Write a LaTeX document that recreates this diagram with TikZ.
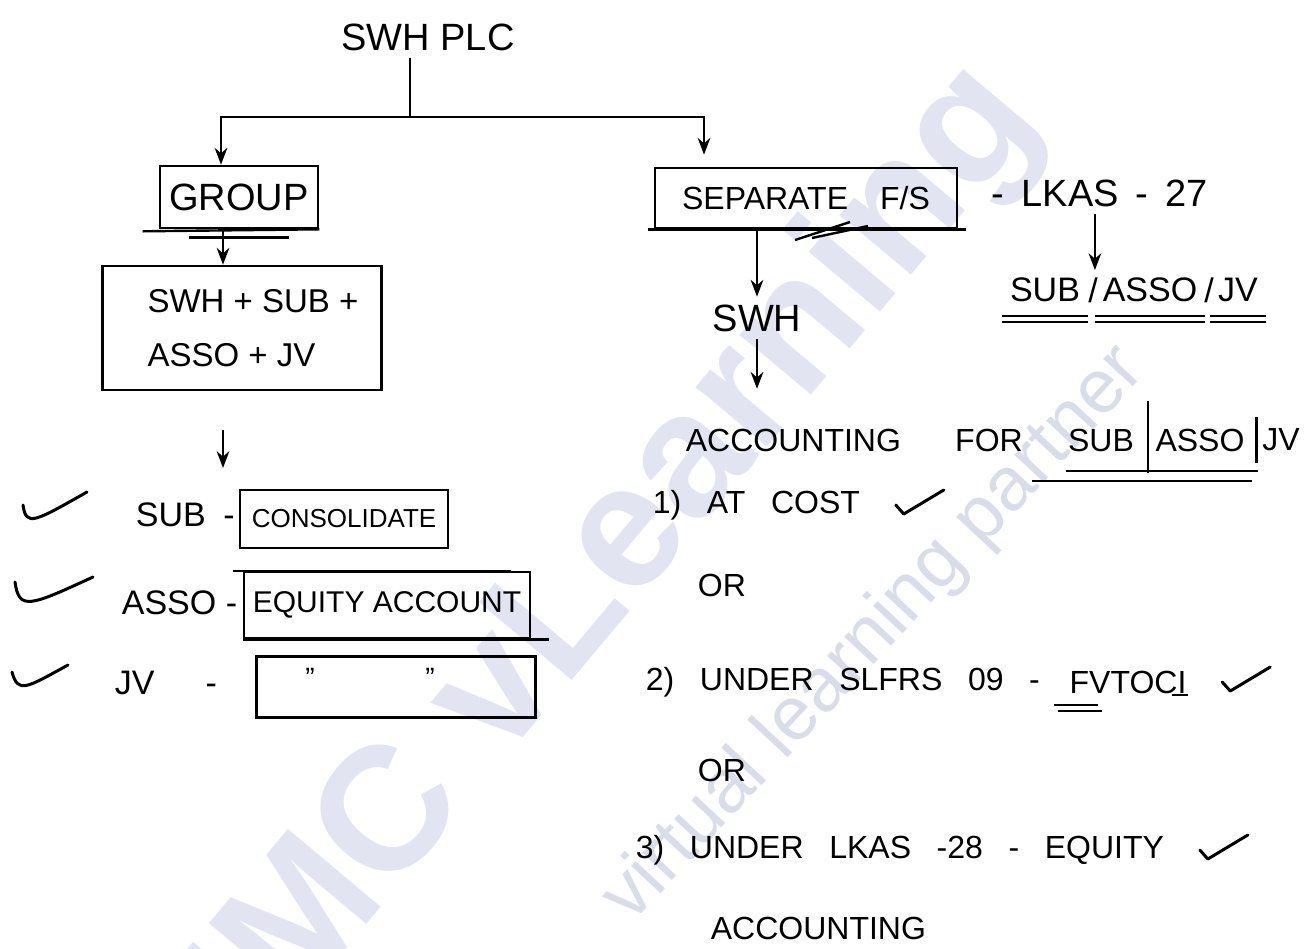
\documentclass[tikz,border=0pt]{standalone}
\usepackage{fontspec}
\setmainfont{Liberation Sans}
\usetikzlibrary{arrows.meta,positioning}
\definecolor{wmark}{HTML}{E2E5F1}
\definecolor{wmark2}{HTML}{D9DDEA}
\newcommand\midfont{\fontsize{16}{18}\selectfont\spaceskip 0.8em\relax}
\newcommand\lkasfont{\fontsize{19}{23}\selectfont\spaceskip 0.45em\relax}
\tikzset{box/.style={draw,line width=1.3pt,align=center,inner sep=3pt},arr/.style={->,>=Stealth},hand/.style={font=\fontsize{19}{27}\selectfont},row/.style={font=\fontsize{17}{20}\selectfont,anchor=west},mid/.style={font=\midfont},tick/.style={line width=1.5pt,line cap=round,line join=round}}

\begin{document}
\begin{tikzpicture}[x=0.5pt,y=-0.5pt,line width=1.2pt]
\useasboundingbox(0,0)rectangle(1310,948);
% watermark
\node[rotate=50,text=wmark,font=\bfseries\fontsize{88}{88}\selectfont](wm)at(618,555){IMC vLearning};
\node[rotate=47,text=wmark2,font=\fontsize{38}{38}\selectfont](wm2)at(875,635){virtual learning partner};
% top of tree
\node[hand](top)at(428,37){SWH PLC};
\coordinate(j)at(410,117);
\draw(j|-top.south)--(j);
\node[box,hand,minimum width=79pt,minimum height=31pt](grp)at(239,197){GROUP};
\node[box,font=\fontsize{16}{18}\selectfont,minimum width=151pt,minimum height=30pt](sep)at(806,198){SEPARATE\hspace{16pt}F/S};
\draw[arr](j)-|([xshift=-9pt]grp.north);
\draw[arr](j)-|([xshift=-51pt,yshift=6pt]sep.north);
\draw([xshift=-8pt,yshift=-1pt]grp.south west)--(grp.south east);
\draw([xshift=15pt,yshift=-4pt]grp.south west)--([xshift=-15pt,yshift=-4pt]grp.south east);
% group side
\node[box,font=\fontsize{16.5}{27}\selectfont,align=left,minimum width=139.5pt,minimum height=62pt](mix)at(242,328){\hspace*{11pt}SWH + SUB +\\\hspace*{11pt}ASSO + JV};
\draw[arr]([xshift=-8pt]grp.south)--([xshift=-8pt]grp.south|-mix.north);
\coordinate(d1)at(223,430);\coordinate(d2)at(223,468);
\draw[arr](d1)--(d2);
\node[row](r1)at(128,515){SUB\hspace{0.52em}-};
\node[box,font=\fontsize{13}{15}\selectfont,minimum width=104pt,minimum height=29pt](c1)at(344,519){CONSOLIDATE};
\node[row](r2)at(114,603){ASSO -};
\node[box,font=\fontsize{15}{17}\selectfont,minimum width=143pt,minimum height=33pt](c2)at(387,605){EQUITY ACCOUNT};
\draw([xshift=-5pt]c2.north west)--([xshift=-10pt]c2.north east);
\draw(c2.south west)--([xshift=9pt]c2.south east);
\node[row](r3)at(107,683){JV\hspace{1.5em}-};
\node[box,minimum width=139.5pt,minimum height=30.5pt](c3)at(396,687){};
\node[font=\fontsize{14}{16}\selectfont](q1)at(310,678){"};\node[font=\fontsize{14}{16}\selectfont](q2)at(430,678){"};
\draw[tick](23,505)..controls(26,527)and(34,522)..(87,492);
\draw[tick](15,582)..controls(19,611)and(30,606)..(93,577);
\draw[tick](12,672)..controls(18,694)and(26,688)..(68,665);
% separate f/s side
\draw([xshift=-3pt]sep.south west)--([xshift=4pt]sep.south east);
\draw(795,240)--(850,222);\draw(812,238)--(868,226);
\node[font=\lkasfont](lkas)at(1100,193){- LKAS - 27};
\node[hand,font=\fontsize{17}{20}\selectfont](s1)at(1045,290){SUB};
\node[hand,font=\fontsize{17}{20}\selectfont](sl1)at(1093,290){/};
\node[hand,font=\fontsize{17}{20}\selectfont](s2)at(1150,290){ASSO};
\node[hand,font=\fontsize{17}{20}\selectfont](sl2)at(1209,290){/};
\node[hand,font=\fontsize{17}{20}\selectfont](s3)at(1238,290){JV};
\draw[arr](lkas.south-|s2.north west)--(s2.north west);
\foreach\n in{s1,s2,s3}{\draw([yshift=-3pt]\n.south west)--([yshift=-3pt]\n.south east);\draw([yshift=-6pt]\n.south west)--([yshift=-6pt]\n.south east);}
\node[hand](swh)at(757,318){SWH};
\draw[arr](sep.south-|swh)--(swh.north);
\node[mid,anchor=west](acc)at(678,440){ACCOUNTING};
\node[mid](fr)at(989,440){FOR};
\node[mid](a1)at(1101,440){SUB};
\node[mid](a2)at(1200,440){ASSO};
\node[mid](a3)at(1281,440){JV};
\draw[arr](swh.south)--([yshift=16pt]swh.south|-acc.north);
\draw([xshift=3pt,yshift=10pt]a1.north east)--([xshift=3pt,yshift=-7pt]a1.south east);
\draw([xshift=2pt,yshift=2pt]a2.north east)--([xshift=2pt,yshift=-2pt]a2.south east);
\draw([xshift=3pt,yshift=-6pt]a1.south west)--([xshift=3pt,yshift=-6pt]a2.south east);
\draw([xshift=-14pt,yshift=-11pt]a1.south west)--([yshift=-11pt]a2.south east);
\node[mid,anchor=west](o1)at(645,505){1) AT COST};
\node[mid,anchor=west](or1)at(690,585){OR};
\node[mid,anchor=west](o2)at(638,682){2) UNDER SLFRS 09 -};
\node[mid,right=7pt of o2](fv){FVTOCI};
\draw([xshift=-4pt,yshift=-2pt]fv.south west)--([xshift=18pt,yshift=-2pt]fv.south west);
\draw([xshift=-2pt,yshift=-5pt]fv.south west)--([xshift=20pt,yshift=-5pt]fv.south west);
\draw([xshift=-11pt,yshift=3pt]fv.south east)--([xshift=-3pt,yshift=3pt]fv.south east);
\node[mid,anchor=west](or2)at(690,770){OR};
\node[mid,anchor=west](o3)at(628,850){3) UNDER LKAS -28 - EQUITY};
\node[mid,anchor=west](o4)at(703,928){ACCOUNTING};
\foreach\n in{o1,fv,o3}\draw[tick]([xshift=14pt]\n.east)--++(8,9)--++(40,-24);
\end{tikzpicture}
\end{document}
